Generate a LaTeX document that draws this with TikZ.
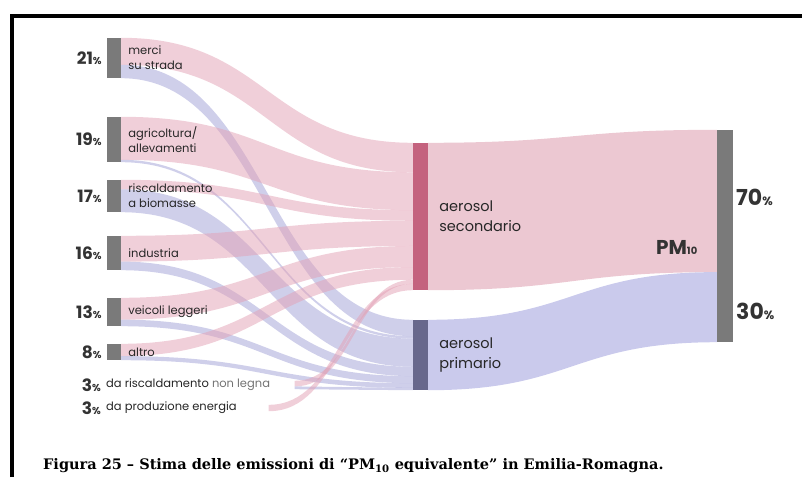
\documentclass[tikz,border=0pt]{standalone}
\usepackage{fontspec}
\newfontfamily\labfont{Poppins}
\newfontfamily\capfont{DejaVu Serif}
\usetikzlibrary{positioning,calc}
\definecolor{barGray}{RGB}{122,122,122}
\definecolor{secRose}{RGB}{196,98,126}
\definecolor{priSlate}{RGB}{104,104,140}
\definecolor{secPink}{RGB}{226,160,180}
\definecolor{priLav}{RGB}{160,160,214}
\definecolor{pmPink}{RGB}{236,200,210}
\definecolor{pmLav}{RGB}{202,202,236}
\pgfdeclarelayer{bg}
\pgfsetlayers{bg,main}
% band from the east side of one bar to the west side of another
\newcommand\band[7]{%
  \path ($(#1.north east)!#2!(#1.south east)$) coordinate (a1)
        ($(#1.north east)!#3!(#1.south east)$) coordinate (a2)
        ($(#4.north west)!#5!(#4.south west)$) coordinate (b1)
        ($(#4.north west)!#6!(#4.south west)$) coordinate (b2);
  \coordinate (m) at ($(a1)!.5!(b1)$);
  \begin{pgfonlayer}{bg}
    \fill[#7] (a1) .. controls (m |- a1) and (m |- b1) .. (b1) -- (b2)
      .. controls (m |- b2) and (m |- a2) .. (a2) -- cycle;
  \end{pgfonlayer}}
\newcommand\pc[1]{#1{\fontsize{10}{10}\selectfont\%}}
\begin{document}
\begin{tikzpicture}[x=1pt, y=-1pt,
    bar/.style={fill=barGray, minimum width=14pt, inner sep=0pt},
    ghost/.style={minimum width=1pt, inner sep=0pt},
    pct/.style={font=\labfont\bfseries\fontsize{17}{18}\selectfont, text=black!80, inner sep=1pt},
    lab/.style={font=\labfont\fontsize{11.5}{15}\selectfont, text=black!85, align=left, inner sep=1pt},
    midlab/.style={font=\labfont\fontsize{14.5}{20}\selectfont, text=black!85, align=left, inner sep=1pt},
    sflow/.style={fill=secPink, opacity=.5},
    pflow/.style={fill=priLav, opacity=.5}
  ]
  \useasboundingbox (0,0) rectangle (802,477);
  \draw[line width=3.5pt] (12,477) -- (12,16) -- (802,16);

  % sources
  \node[bar, minimum height=40pt] (road) at (114,58) {};
  \node[bar, minimum height=45pt] (agri) at (114,139.5) {};
  \node[bar, minimum height=32pt] (risc) at (114,196) {};
  \node[bar, minimum height=34pt] (ind) at (114,253) {};
  \node[bar, minimum height=28pt] (veic) at (114,312) {};
  \node[bar, minimum height=16pt] (altro) at (114,352) {};
  \node[ghost, minimum height=8pt] (resid) at (294,385) {};
  \node[ghost, minimum height=6pt] (enrg) at (268,408) {};

  % aerosol and total
  \node[bar, fill=secRose, minimum width=15pt, minimum height=147pt] (sec) at (420.5,216.5) {};
  \node[bar, fill=priSlate, minimum width=15pt, minimum height=70pt] (prim) at (420.5,355) {};
  \node[bar, minimum width=16pt, minimum height=212pt] (pm) at (725,236) {};

  \band{road}{0}{.667}{sec}{0}{.2}{sflow}
  \band{road}{.667}{1}{prim}{0}{.233}{pflow}
  \band{agri}{0}{.947}{sec}{.2}{.457}{sflow}
  \band{agri}{.947}{1}{prim}{.233}{.267}{pflow}
  \band{risc}{0}{.294}{sec}{.457}{.529}{sflow}
  \band{risc}{.294}{1}{prim}{.267}{.667}{pflow}
  \band{ind}{0}{.75}{sec}{.529}{.7}{sflow}
  \band{ind}{.75}{1}{prim}{.667}{.8}{pflow}
  \band{veic}{0}{.77}{sec}{.7}{.843}{sflow}
  \band{veic}{.77}{1}{prim}{.8}{.9}{pflow}
  \band{altro}{0}{.75}{sec}{.843}{.929}{sflow}
  \band{altro}{.75}{1}{prim}{.9}{.967}{pflow}
  \band{resid}{0}{.667}{sec}{.929}{.957}{sflow}
  \band{resid}{.667}{1}{prim}{.967}{1}{pflow}
  \band{enrg}{0}{1}{sec}{.957}{1}{sflow}
  \band{sec}{0}{1}{pm}{0}{.67}{fill=pmPink}
  \band{prim}{0}{1}{pm}{.67}{1}{fill=pmLav}

  \node[pct, left=4pt of road] {\pc{21}};
  \node[pct, left=4pt of agri] {\pc{19}};
  \node[pct, left=4pt of risc] {\pc{17}};
  \node[pct, left=4pt of ind] {\pc{16}};
  \node[pct, left=4pt of veic] {\pc{13}};
  \node[pct, left=4pt of altro] {\pc{8}};
  \node[pct, anchor=east] (p7) at (102,385) {\pc{3}};
  \node[pct, anchor=east] (p8) at (102,408) {\pc{3}};

  \node[lab, right=6pt of road] {merci\\su strada};
  \node[lab, right=6pt of agri] {agricoltura/\\allevamenti};
  \node[lab, right=6pt of risc] {riscaldamento\\a biomasse};
  \node[lab, right=6pt of ind] {industria};
  \node[lab, right=6pt of veic] {veicoli leggeri};
  \node[lab, right=6pt of altro] {altro};
  \node[lab, right=3pt of p7] {da riscaldamento {\color{black!55}non legna}};
  \node[lab, right=3pt of p8] {da produzione energia};

  \node[midlab, right=10pt of sec] {aerosol\\secondario};
  \node[midlab, right=10pt of prim] {aerosol\\primario};
  \node[font=\labfont\bfseries\fontsize{20}{21}\selectfont, text=black!80, left=16pt of pm, yshift=-11pt]
    {PM{\fontsize{10}{10}\selectfont 10}};
  \node[pct, font=\labfont\bfseries\fontsize{22}{23}\selectfont, anchor=west] at (735,197) {70{\fontsize{12}{12}\selectfont\%}};
  \node[pct, font=\labfont\bfseries\fontsize{22}{23}\selectfont, anchor=west] at (735,311) {30{\fontsize{12}{12}\selectfont\%}};

  \node[anchor=west, font=\capfont\bfseries\fontsize{14.5}{15}\selectfont, inner sep=0pt] (cap) at (43,466)
    {Figura 25 – Stima delle emissioni di “PM\textsubscript{10} equivalente” in Emilia-Romagna.};
\end{tikzpicture}
\end{document}
